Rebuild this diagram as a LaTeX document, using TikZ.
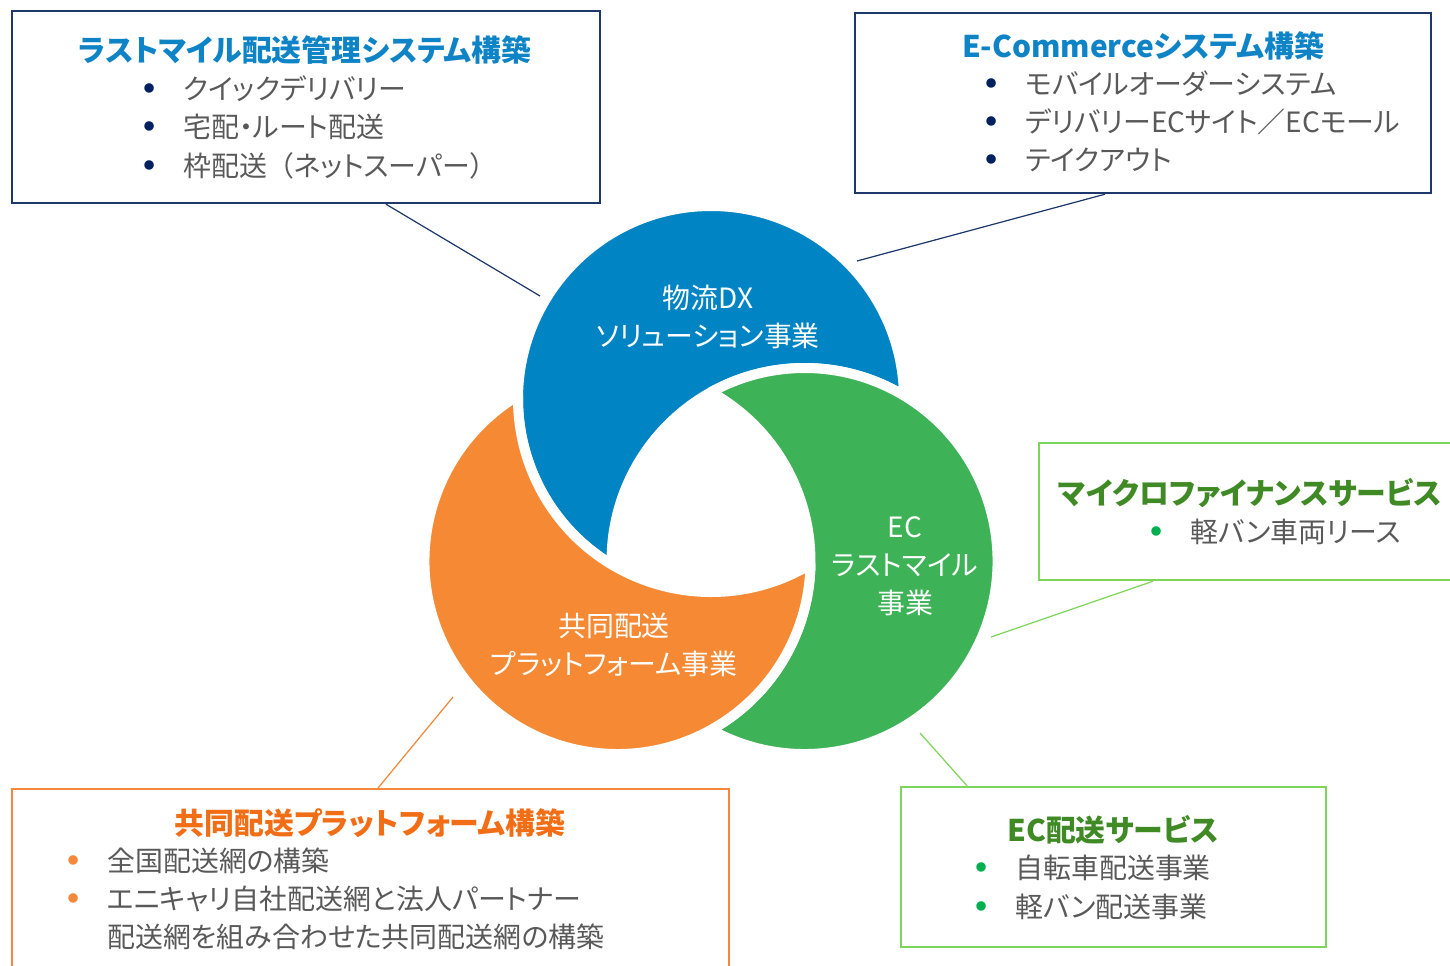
\documentclass[tikz,border=0pt]{standalone}
\usepackage{fontspec}
\setmainfont{Noto Sans CJK JP}[RawFeature=+palt]
\usepackage{graphicx}
\usetikzlibrary{calc}

\definecolor{cblue}{RGB}{0,132,196}
\definecolor{cgreen}{RGB}{62,178,86}
\definecolor{corange}{RGB}{245,137,52}
\definecolor{navyline}{RGB}{31,56,108}
\definecolor{navydot}{RGB}{0,32,96}
\definecolor{tblue}{RGB}{14,132,198}
\definecolor{tgreen}{RGB}{64,138,38}
\definecolor{torange}{RGB}{242,110,22}
\definecolor{lgreen}{RGB}{125,214,90}
\definecolor{gdot}{RGB}{0,176,80}
\definecolor{lorange}{RGB}{244,136,60}
\definecolor{textgray}{RGB}{89,89,89}

\newcommand{\bul}[1]{\makebox[0.79cm][l]{\textcolor{#1}{\raisebox{0.24em}{\scalebox{0.38}{●}}}}}

\tikzset{
  swirl/.style={draw=white,line width=0.2cm,line join=round},
  halo/.style={draw=black!12,line width=0.5pt},
  circtext/.style={text=white,align=center,font=\fontsize{15.9pt}{21.6pt}\selectfont},
  infobox/.style={rectangle,fill=none,inner sep=0},
  boxtitle/.style={font=\fontsize{17pt}{21.6pt}\selectfont\bfseries,inner sep=0},
  item/.style={anchor=west,inner sep=0,text=textgray,text height=14pt,text depth=1.9pt,
    font=\fontsize{15.9pt}{21.6pt}\selectfont},
  lead/.style={line width=0.7pt}
}

\begin{document}
\begin{tikzpicture}[x=0.02cm,y=0.02cm]
\useasboundingbox (0,0) rectangle (1450,-966);

% three interlocked rings
\coordinate (cb) at (711,-399);
\coordinate (cg) at (804.53,-561);
\coordinate (co) at (617.47,-561);

\draw[halo] (cb) circle (197) (cg) circle (197) (co) circle (197);

\filldraw[swirl,fill=cblue] ($(cb)+(1.01:193)$) arc[start angle=1.01,end angle=238.99,radius=193]
  arc[start angle=181.01,end angle=58.99,radius=193] -- cycle;
\filldraw[swirl,fill=cgreen] ($(cg)+(-118.99:193)$) arc[start angle=-118.99,end angle=118.99,radius=193]
  arc[start angle=61.01,end angle=-61.01,radius=193] -- cycle;
\filldraw[swirl,fill=corange] ($(co)+(121.01:193)$) arc[start angle=121.01,end angle=358.99,radius=193]
  arc[start angle=301.01,end angle=178.99,radius=193] -- cycle;

\node[circtext] (tb) at (708,-317) {物流DX\\ソリューション事業};
\node[circtext] (tg) at (905,-566) {EC\\ラストマイル\\事業};
\node[circtext] (to) at (614,-645) {共同配送\\プラットフォーム事業};

% boxes
\node[infobox,draw=navyline,line width=1.4pt,minimum width=11.76cm,minimum height=3.84cm] (b1) at (306,-107) {};
\node[infobox,draw=navyline,line width=1.4pt,minimum width=11.52cm,minimum height=3.6cm] (b2) at (1143,-103) {};
\node[infobox,draw=lgreen,line width=1.4pt,minimum width=8.62cm,minimum height=2.74cm] (b3) at (1254.5,-511.5) {};
\node[infobox,draw=lorange,line width=1.1pt,minimum width=14.34cm,minimum height=4.02cm] (b4) at (370.5,-889.5) {};
\node[infobox,draw=lgreen,line width=1.4pt,minimum width=8.5cm,minimum height=3.2cm] (b5) at (1113.5,-867) {};

\node[boxtitle,text=tblue] (t1) at (305,-50) {ラストマイル配送管理システム構築};
\node[item] (i1a) at (143.5,-89) {\bul{navydot}クイックデリバリー};
\node[item] (i1b) at (143.5,-127) {\bul{navydot}宅配・ルート配送};
\node[item] (i1c) at (143.5,-166) {\bul{navydot}枠配送\hspace{0.45em}（ネットスーパー）};

\node[boxtitle,text=tblue] (t2) at (1143,-46) {E-Commerceシステム構築};
\node[item] (i2a) at (985.5,-84) {\bul{navydot}モバイルオーダーシステム};
\node[item] (i2b) at (985.5,-122) {\bul{navydot}デリバリーECサイト／ECモール};
\node[item] (i2c) at (985.5,-160) {\bul{navydot}テイクアウト};

\node[boxtitle,text=tgreen] (t3) at (1250,-493) {マイクロファイナンスサービス};
\node[item] (i3a) at (1150.5,-532) {\bul{gdot}軽バン車両リース};

\node[boxtitle,text=torange] (t4) at (370,-823) {共同配送プラットフォーム構築};
\node[item] (i4a) at (67.5,-861) {\bul{lorange}全国配送網の構築};
\node[item] (i4b) at (67.5,-899) {\bul{lorange}エニキャリ自社配送網と法人パートナー};
\node[item] (i4c) at (107,-937) {配送網を組み合わせた共同配送網の構築};

\node[boxtitle,text=tgreen] (t5) at (1113,-830) {EC配送サービス};
\node[item] (i5a) at (975.5,-868) {\bul{gdot}自転車配送事業};
\node[item] (i5b) at (975.5,-907) {\bul{gdot}軽バン配送事業};

% leader lines
\coordinate (k1) at (540,-296);
\coordinate (k2) at (857,-261);
\coordinate (k3) at (991,-637);
\coordinate (k4) at (453,-697);
\coordinate (k5) at (920,-733);
\draw[lead,navyline] ([xshift=1.6cm]b1.south) -- (k1);
\draw[lead,navyline] ([xshift=-0.76cm]b2.south) -- (k2);
\draw[lead,lgreen] ([xshift=-2.03cm]b3.south) -- (k3);
\draw[lead,lorange] ([xshift=0.15cm]b4.north) -- (k4);
\draw[lead,lgreen] ([xshift=-2.93cm]b5.north) -- (k5);
\end{tikzpicture}
\end{document}
